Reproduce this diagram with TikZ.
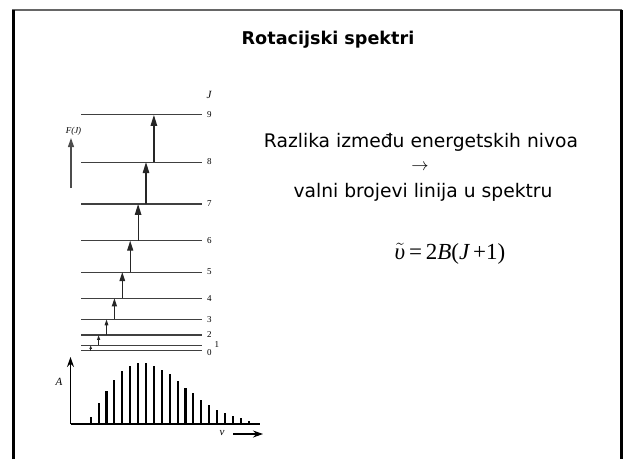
\documentclass[tikz,border=0pt]{standalone}
\usepackage{fontspec}
\setmainfont{Liberation Serif}
\newfontfamily\comic{DejaVu Sans}
\usetikzlibrary{arrows.meta}
\begin{document}
\begin{tikzpicture}[x=1pt,y=-1pt,
  lvl/.style={draw=black!75, line width=1.1pt},
  lab/.style={font=\fontsize{9}{9}\selectfont, inner sep=0pt},
  trans/.style={draw=black!85, line width=1.2pt},
  specline/.style={draw=black, line width=2.1pt},
  axis/.style={draw=black, line width=1.1pt, -{Stealth[length=10pt,width=7pt]}},
  txt/.style={font=\comic\fontsize{18.7}{21}\selectfont, inner sep=0pt}]
\useasboundingbox (0,0) rectangle (624,459);
% frame
\draw[black!60, line width=2pt] (12,9.5) -- (622,9.5);
\draw[black, line width=3pt] (13,459) coordinate (fbl) -- (13,9.5) coordinate (ftl);
\draw[black, line width=3pt] (621,9.5) coordinate (ftr) -- (621,459) coordinate (fbr);
% title
\node[font=\comic\bfseries\fontsize{17.6}{19}\selectfont, inner sep=0pt] (title) at (328,40) {Rotacijski spektri};
% levels
\foreach \j in {0,...,9} {
  \pgfmathsetmacro\yy{350.7-2.62*\j*(\j+1)}
  \draw[lvl] (81,\yy) coordinate (L\j a) -- (202,\yy) coordinate (L\j b);
}
\foreach \j/\yy in {2/335,3/319.3,4/298.3,5/272,6/240.7,7/204,8/162,9/115}
  \node[lab, anchor=west] (n\j) at (207,\yy) {\j};
\node[lab, anchor=west] (n0) at (207,352.5) {0};
\node[lab, anchor=west] (n1) at (214.5,344.5) {1};
\node[font=\itshape\fontsize{11}{11}\selectfont, inner sep=0pt] (Jlab) at (209,95) {J};
% F(J)
\node[font=\itshape\fontsize{9}{9}\selectfont, inner sep=0pt] (FJ) at (73.5,131.5) {F(J)};
\coordinate (FJb) at (71,188);
\coordinate (FJt) at (71,138);
\draw[draw=black!70, line width=1.1pt, -{Triangle[length=9pt,width=6pt]}] (FJb) -- (FJt);
% transitions
\foreach \j/\hl/\hw in {0/3.5/2.5,1/5/3,2/6/3.5,3/8/5,4/9/5.5,5/10/6,6/11/6.5,7/11/6.5,8/11/6.5} {
  \pgfmathsetmacro\xx{90.7+7.9*\j}
  \pgfmathsetmacro\ya{350.7-2.62*\j*(\j+1)}
  \pgfmathsetmacro\yb{350.7-2.62*(\j+1)*(\j+2)}
  \coordinate (T\j a) at (\xx,\ya);
  \coordinate (T\j b) at (\xx,\yb);
  \draw[trans, -{Triangle[length=\hl pt,width=\hw pt]}] (T\j a) -- (T\j b);
}
% spectrum axes
\coordinate (O) at (70.5,424);
\coordinate (Atop) at (70.5,357);
\coordinate (Xend) at (260,424);
\draw[axis] (O) -- (Atop);
\draw[black, line width=1.1pt] (O) -- (Xend);
\node[font=\itshape\fontsize{11}{11}\selectfont, inner sep=0pt] (Alab) at (59,382) {A};
\node[font=\itshape\fontsize{11}{11}\selectfont, inner sep=0pt] (nulab) at (222,433) {ν};
\coordinate (nua) at (233,434);
\coordinate (nub) at (263,434);
\draw[black, line width=1.1pt, -{Stealth[length=10pt,width=7pt]}] (nua) -- (nub);
% spectral lines
\foreach \i/\h in {0/6.7,1/20.7,2/32.7,3/44,4/52.7,5/58,6/61.3,7/61.3,8/58.3,9/54.3,10/49.7,11/43.3,12/36.3,13/30.7,14/24,15/19.3,16/14.3,17/10.7,18/7.7,19/5.7,20/3.3} {
  \pgfmathsetmacro\xx{90.7+7.9*\i}
  \pgfmathsetmacro\yt{424-\h}
  \draw[specline] (\xx,424) -- (\xx,\yt);
}
% right text
\node[txt] (t1) at (421,142) {Razlika između energetskih nivoa};
\node[font=\fontsize{18}{18}\selectfont, inner sep=0pt] (t2) at (420,167.5) {$\rightarrow$};
\node[txt] (t3) at (423,192) {valni brojevi linija u spektru};
\node[font=\fontsize{23}{23}\selectfont, inner sep=0pt] (formula) at (450,254)
  {$\tilde{\mbox{\itshape υ}}$\,=\,2\itshape B\upshape(\itshape J\upshape\,+1)};
\end{tikzpicture}
\end{document}
